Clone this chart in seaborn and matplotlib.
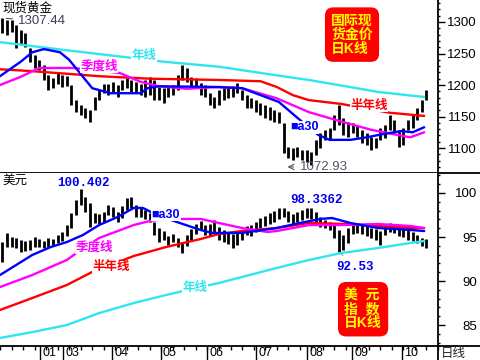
"""
现货黄金 / 美元指数 日K线对比图
"""

import numpy as np
import matplotlib
matplotlib.use('Agg')
import matplotlib.pyplot as plt
import matplotlib.transforms as mtransforms
from matplotlib.lines import Line2D
from matplotlib.ticker import MultipleLocator
import seaborn as sns

# ---- 交易日序号(每两日取一根K线) ----
bar_day = list(range(1, 186, 2))

# ---- 现货黄金 日K线 高/低 ----
gold_hi = [1306, 1303, 1303, 1295, 1287, 1283, 1259, 1248, 1240, 1232,
           1216, 1211, 1221, 1216, 1214, 1200, 1176, 1168, 1163, 1160,
           1181, 1192, 1202, 1202, 1205, 1200, 1208, 1211, 1208, 1205,
           1202, 1208, 1213, 1208, 1197, 1195, 1197, 1200, 1216, 1232,
           1227, 1213, 1211, 1203, 1200, 1187, 1181, 1192, 1195, 1195,
           1198, 1203, 1192, 1184, 1179, 1176, 1171, 1168, 1165, 1160,
           1157, 1140, 1102, 1100, 1102, 1097, 1097, 1094, 1113, 1124,
           1129, 1132, 1152, 1168, 1148, 1141, 1140, 1137, 1129, 1124,
           1117, 1116, 1132, 1137, 1152, 1144, 1129, 1132, 1144, 1152,
           1163, 1176, 1192]
gold_lo = [1283, 1279, 1284, 1259, 1263, 1260, 1237, 1227, 1224, 1208,
           1192, 1195, 1202, 1197, 1198, 1168, 1157, 1152, 1148, 1141,
           1160, 1176, 1187, 1184, 1189, 1181, 1192, 1195, 1189, 1189,
           1184, 1181, 1184, 1176, 1176, 1171, 1181, 1184, 1192, 1208,
           1205, 1197, 1195, 1184, 1181, 1168, 1163, 1168, 1176, 1179,
           1181, 1187, 1176, 1163, 1163, 1157, 1152, 1148, 1144, 1141,
           1140, 1092, 1084, 1081, 1086, 1081, 1078, 1073, 1089, 1100,
           1113, 1113, 1129, 1137, 1121, 1117, 1124, 1117, 1108, 1105,
           1097, 1100, 1113, 1116, 1129, 1124, 1102, 1105, 1129, 1132,
           1144, 1157, 1176]

# 黄金均线
g_year_d = [0, 27, 55, 71, 95, 117, 134, 150, 164, 184]
g_year_v = [1268, 1256, 1244, 1237, 1229, 1217, 1208, 1198, 1189, 1181]
g_half_d = [0, 14, 43, 65, 95, 113, 120, 127, 134, 148, 169, 184]
g_half_v = [1225, 1222, 1214, 1210, 1208, 1206, 1197, 1184, 1176, 1170, 1156, 1151]
g_qtr_d = [0, 9, 17, 32, 52, 61, 69, 81, 95, 105, 120, 134, 149, 161, 172, 178, 184]
g_qtr_v = [1200, 1213, 1227, 1227, 1219, 1205, 1198, 1194, 1197, 1195, 1179,
           1157, 1141, 1129, 1121, 1117, 1125]
g_ma30_d = [0, 9, 14, 19, 26, 30, 36, 40, 48, 61, 64, 69, 92, 105, 113, 121,
            129, 138, 143, 152, 159, 166, 174, 179, 184]
g_ma30_v = [1214, 1237, 1252, 1257, 1252, 1240, 1213, 1195, 1187, 1187, 1195,
            1198, 1197, 1195, 1184, 1173, 1148, 1121, 1113, 1113, 1117, 1122,
            1127, 1125, 1133]

# ---- 美元指数 日K线 高/低 ----
dxy_hi = [94.43, 95.46, 95.00, 94.89, 94.66, 94.55, 94.66, 95.00, 94.77, 94.55,
          94.89, 94.77, 95.23, 95.57, 96.36, 97.73, 99.20, 100.40, 99.55, 98.86,
          97.73, 97.61, 97.84, 98.64, 98.41, 97.84, 98.52, 99.43, 99.55, 98.64,
          98.30, 98.07, 97.73, 96.70, 96.02, 95.68, 95.11, 95.34, 94.89, 94.43,
          95.23, 95.91, 96.48, 96.82, 96.36, 96.48, 96.93, 96.14, 95.80, 95.57,
          95.34, 95.46, 95.80, 96.25, 96.36, 96.70, 97.16, 97.39, 97.73, 97.95,
          98.30, 98.34, 97.95, 97.61, 97.84, 98.07, 98.30, 98.30, 97.84, 97.27,
          96.93, 96.70, 96.36, 95.80, 95.23, 96.02, 96.48, 96.59, 96.36, 96.36,
          96.02, 95.91, 95.68, 96.36, 96.59, 96.48, 96.25, 96.25, 95.80, 95.57,
          95.23, 94.89, 94.77]
dxy_lo = [92.16, 93.86, 93.86, 93.75, 93.30, 93.41, 93.52, 93.86, 93.86, 93.75,
          93.86, 93.98, 94.32, 94.55, 95.11, 96.02, 97.50, 98.64, 97.84, 96.14,
          96.59, 96.48, 96.70, 97.50, 97.27, 96.70, 97.16, 98.07, 98.30, 97.27,
          97.27, 97.05, 96.70, 95.23, 94.43, 94.66, 94.09, 94.43, 93.86, 93.18,
          93.98, 94.66, 95.34, 95.80, 95.23, 95.11, 95.57, 94.66, 94.43, 94.20,
          93.75, 94.09, 94.66, 95.23, 95.11, 95.57, 96.02, 96.25, 96.48, 96.70,
          97.05, 97.27, 96.70, 96.48, 96.70, 96.93, 97.16, 97.05, 96.59, 96.14,
          96.02, 95.80, 94.89, 93.30, 93.52, 94.32, 95.34, 95.46, 95.34, 95.11,
          94.89, 94.66, 94.09, 95.23, 95.57, 95.46, 95.11, 95.00, 94.66, 94.55,
          94.32, 93.98, 93.75]

# 美元均线
d_year_d = [0, 14, 29, 43, 58, 72, 87, 95, 105, 120, 134, 148, 164, 178, 184]
d_year_v = [83.53, 84.20, 85.00, 86.36, 87.50, 88.41, 89.32, 89.78, 90.46,
            91.48, 92.39, 93.18, 93.75, 94.32, 94.55]
d_half_d = [0, 14, 29, 40, 58, 72, 87, 95, 105, 120, 134, 149, 164, 178, 184]
d_half_v = [86.71, 88.07, 89.55, 91.03, 92.84, 93.86, 94.77, 95.34, 95.68,
            96.02, 96.59, 96.48, 96.25, 96.02, 96.02]
d_qtr_d = [0, 14, 29, 32, 43, 58, 65, 72, 87, 95, 105, 116, 120, 134, 149, 164, 178, 184]
d_qtr_v = [89.32, 90.68, 92.39, 92.96, 94.89, 96.36, 96.82, 97.05, 97.05, 96.59,
           96.02, 95.57, 95.68, 96.36, 96.36, 96.48, 96.25, 96.02]
d_ma30_d = [0, 7, 14, 22, 29, 36, 43, 51, 58, 62, 68, 78, 87, 92, 105, 120, 130,
            139, 144, 152, 164, 178, 184]
d_ma30_v = [90.68, 91.82, 92.96, 93.86, 94.43, 95.23, 96.36, 97.27, 98.30, 98.30,
            97.50, 96.59, 95.80, 95.46, 95.46, 96.02, 96.59, 97.05, 97.16, 96.59,
            96.02, 95.80, 95.68]

# 月份刻度
month_day = [17.4, 27.3, 48.6, 69.8, 89.8, 111.1, 133.2, 152.7, 174.4]
month_lab = ['01', '03', '04', '05', '06', '07', '08', '09', '10']
gold_ticks = [1100, 1150, 1200, 1250, 1300]
dxy_ticks = [85, 90, 95, 100]

C_YEAR = '#2ee6f0'
C_HALF = '#ff0000'
C_QTR = '#ff00ff'
C_MA30 = '#0000ff'

sns.set_theme(style='white')
plt.rcParams['font.family'] = ['Liberation Sans', 'Noto Sans CJK SC', 'DejaVu Sans']

fig = plt.figure(figsize=(4.8, 3.6), dpi=100)
W, H = 480.0, 360.0
ax1 = fig.add_axes([0, 1 - 173 / H, 438 / W, 173 / H])
ax2 = fig.add_axes([0, 1 - 346 / H, 438 / W, 173 / H])


def draw_panel(ax, hi, lo, mas, ylim, ticks, minor):
    ax.vlines(bar_day, lo, hi, color='black', lw=2.0, zorder=2)
    for days, vals, color in mas:
        sns.lineplot(x=days, y=vals, ax=ax, color=color, lw=1.7,
                     sort=False, estimator=None, zorder=3)
    ax.set_xlim(0, 190)
    ax.set_ylim(*ylim)
    ax.set_xlabel('')
    ax.set_ylabel('')
    ax.yaxis.tick_right()
    ax.set_yticks(ticks)
    ax.yaxis.set_minor_locator(MultipleLocator(minor))
    ax.tick_params(axis='y', which='both', right=True, left=False,
                   labelright=True, labelleft=False, direction='out',
                   colors='black')
    ax.tick_params(axis='y', which='major', length=5, width=1, pad=23, labelsize=9.5)
    ax.tick_params(axis='y', which='minor', length=1.5, width=1)
    for lab in ax.get_yticklabels():
        lab.set_ha('right')
    ax.spines[['left', 'top']].set_visible(False)
    for s in ['right', 'bottom']:
        ax.spines[s].set_color('black')
        ax.spines[s].set_linewidth(1.3)
    ax.grid(False)


def ma_label(ax, x, y, s, color):
    ax.text(x, y, s, color=color, fontsize=9, fontweight='bold', ha='center',
            va='center', zorder=5,
            bbox=dict(fc='white', ec='none', pad=0.3))


def box_label(ax, x, y, s):
    ax.text(x, y, s, color='#ffff00', fontsize=10, fontweight='bold',
            ha='center', va='center', multialignment='left', linespacing=1.0,
            zorder=6,
            bbox=dict(boxstyle='round,pad=0.45,rounding_size=0.6',
                      fc='#ff0000', ec='none'))


# ---- 上图: 黄金 ----
draw_panel(ax1, gold_hi, gold_lo,
           [(g_year_d, g_year_v, C_YEAR), (g_half_d, g_half_v, C_HALF),
            (g_qtr_d, g_qtr_v, C_QTR), (g_ma30_d, g_ma30_v, C_MA30)],
           (1060.4, 1334.9), gold_ticks, 10)
ax1.tick_params(axis='x', which='both', bottom=False, labelbottom=False)
ax1.spines['bottom'].set_visible(True)

ax1.text(0.005, 0.99, '现货黄金', transform=ax1.transAxes, va='top', ha='left',
         fontsize=9, color='black')
ax1.annotate('1307.44', xy=(1.5, 1306), xytext=(8, 1302), fontsize=9.5,
             color='#3a3f55', va='center', ha='left',
             arrowprops=dict(arrowstyle='-', color='#555555', lw=0.8))
ax1.annotate('1072.93', xy=(123.5, 1070), xytext=(130, 1070), fontsize=9.5,
             color='#555566', va='center', ha='left',
             arrowprops=dict(arrowstyle='->', color='#555555', lw=0.8))
ma_label(ax1, 62.5, 1246, '年线', C_YEAR)
ma_label(ax1, 43, 1230, '季度线', C_QTR)
ma_label(ax1, 160, 1167, '半年线', C_HALF)
ma_label(ax1, 132, 1133, '■a30', C_MA30)
box_label(ax1, 152.7, 1280, '国际现\n货金价\n日K线')

# ---- 下图: 美元指数 ----
draw_panel(ax2, dxy_hi, dxy_lo,
           [(d_year_d, d_year_v, C_YEAR), (d_half_d, d_half_v, C_HALF),
            (d_qtr_d, d_qtr_v, C_QTR), (d_ma30_d, d_ma30_v, C_MA30)],
           (82.62, 102.27), dxy_ticks, 1)
ax2.set_xticks(month_day)
ax2.set_xticklabels(month_lab)
ax2.xaxis.set_minor_locator(MultipleLocator(5))
ax2.tick_params(axis='x', which='both', bottom=True, direction='out',
                colors='black')
ax2.tick_params(axis='x', which='major', length=10, width=1, pad=-9.5, labelsize=9)
ax2.tick_params(axis='x', which='minor', length=3, width=1)
shift = mtransforms.ScaledTranslation(1.5 / 72, 0, fig.dpi_scale_trans)
for lab in ax2.get_xticklabels():
    lab.set_ha('left')
    lab.set_transform(lab.get_transform() + shift)

ax2.text(0.005, 0.99, '美元', transform=ax2.transAxes, va='top', ha='left',
         fontsize=9, color='black')
num_font = dict(family='Liberation Mono', fontweight='bold', fontsize=9,
                color='#0000ee', ha='center', va='center')
ax2.text(36.4, 101.1, '100.402', **num_font)
ax2.text(137.5, 99.2, '98.3362', **num_font)
ax2.annotate('92.53', xy=(147, 93.3), xytext=(154, 91.6),
             arrowprops=dict(arrowstyle='-', color='#888888', lw=0.6),
             **num_font)
ma_label(ax2, 72, 97.5, '■a30', C_MA30)
ma_label(ax2, 40.8, 93.8, '季度线', C_QTR)
ma_label(ax2, 48, 91.6, '半年线', C_HALF)
ma_label(ax2, 84.6, 89.2, '年线', C_YEAR)
box_label(ax2, 157.5, 86.8, '美  元\n指  数\n日K线')

# 右侧刻度区的分隔线
xr = 438 / W
for yy in [1 - 173 / H, 1 - 346 / H]:
    fig.add_artist(Line2D([xr, 1], [yy, yy], color='black', lw=1.3,
                          transform=fig.transFigure))
fig.add_artist(Line2D([xr, xr], [0, 1 - 346 / H], color='black', lw=1.3,
                      transform=fig.transFigure))
fig.text(441 / W, 1 - 354 / H, '日线', fontsize=9, va='center', ha='left')

fig.savefig('out.png', dpi=100)
